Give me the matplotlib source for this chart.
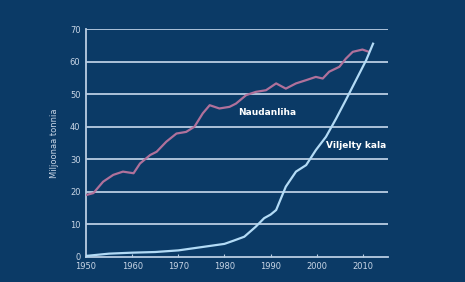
import numpy as np
import matplotlib
matplotlib.use("Agg")
import matplotlib.pyplot as plt

# Naudanliha (beef) production, million tonnes
beef_years = [1950, 1951.6, 1953.7, 1955.9, 1958, 1960.3, 1961.7, 1963.9, 1965.3, 1967.4,
              1969.6, 1971.7, 1973.5, 1975.3, 1976.8, 1978.9, 1981.1, 1982.5, 1984.7, 1986.8,
              1989, 1991.2, 1993.3, 1995.5, 1997.7, 1999.8, 2001.3, 2002.7, 2004.9, 2006.3,
              2007.8, 2009.9, 2011.3]
beef_vals = [19.0, 19.6, 23.1, 25.2, 26.2, 25.7, 28.7, 31.3, 32.3, 35.4,
             37.9, 38.4, 40.0, 44.1, 46.6, 45.6, 46.1, 47.1, 49.7, 50.7,
             51.2, 53.3, 51.7, 53.3, 54.3, 55.3, 54.8, 56.9, 58.4, 60.9,
             63.0, 63.7, 63.0]

# Viljelty kala (farmed fish) production, million tonnes
fish_years = [1950, 1955, 1960, 1965, 1970, 1975, 1980, 1982, 1984.3, 1986.8, 1988.6,
              1990, 1991.2, 1993.3, 1995.5, 1997.7, 1999.8, 2002, 2004.2, 2006.3,
              2008.5, 2010.7, 2012.2]
fish_vals = [0.3, 1.0, 1.3, 1.5, 2.0, 3.0, 4.0, 5.0, 6.2, 9.3, 11.9,
             13.0, 14.4, 21.6, 26.2, 28.2, 32.8, 36.9, 42.5, 48.2,
             54.3, 60.4, 65.5]

xticks = [1950, 1960, 1970, 1980, 1990, 2000, 2010]
yticks = [0, 10, 20, 30, 40, 50, 60, 70]

bg = "#0b3a66"
grid_c = "#b9cde3"
tick_c = "#c9d6e6"

fig = plt.figure(figsize=(4.65, 2.82), dpi=100)
fig.patch.set_facecolor(bg)
ax = fig.add_axes([0.185, 0.089, 0.65, 0.808])
ax.set_facecolor(bg)

for y in yticks[1:]:
    ax.axhline(y, color=grid_c, lw=1.3, zorder=1)

ax.plot(beef_years, beef_vals, color="#b0719b", lw=1.6, zorder=3)
ax.plot(fish_years, fish_vals, color="#b3dbf6", lw=1.6, zorder=3)

ax.set_xlim(1950, 2015.5)
ax.set_ylim(0, 70)
ax.set_xticks(xticks)
ax.set_yticks(yticks)
ax.tick_params(axis="both", colors=tick_c, labelsize=6, length=0, pad=4)
ax.tick_params(axis="x", length=2, direction="in", color=grid_c)

for side in ["top", "right"]:
    ax.spines[side].set_visible(False)
ax.spines["left"].set_color(grid_c)
ax.spines["bottom"].set_color(grid_c)
ax.spines["left"].set_linewidth(1.3)
ax.spines["bottom"].set_linewidth(1.3)

ax.set_ylabel("Miljoonaa tonnia", color=tick_c, fontsize=6, labelpad=8)

ax.text(1989.3, 44.5, "Naudanliha", color="white", fontsize=6.5, fontweight="bold",
        ha="center", va="center")
ax.text(2008.5, 34.3, "Viljelty kala", color="white", fontsize=6.5, fontweight="bold",
        ha="center", va="center")

fig.savefig("out.png", dpi=100, facecolor=bg)
